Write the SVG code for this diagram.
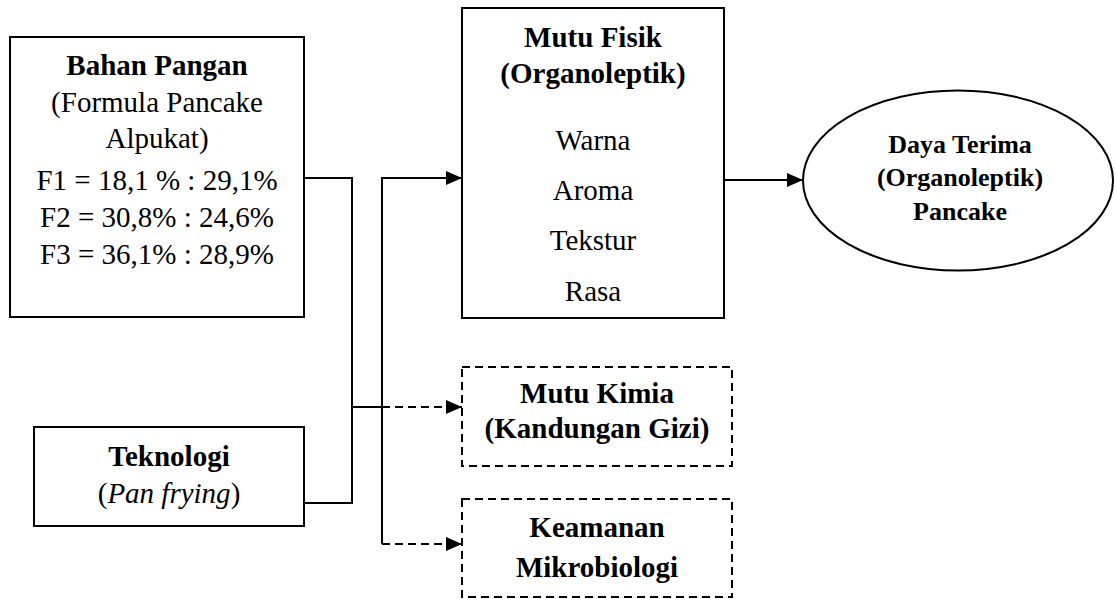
<svg xmlns="http://www.w3.org/2000/svg" width="1116" height="599" viewBox="0 0 1116 599">
<style>
  .box{fill:#fff;stroke:#000;stroke-width:2}
  .dbox{fill:#fff;stroke:#000;stroke-width:2;stroke-dasharray:8 5}
  .ln{fill:none;stroke:#000;stroke-width:2}
  .dl{fill:none;stroke:#000;stroke-width:2;stroke-dasharray:8 5}
  text{font-family:'Liberation Serif','Times New Roman','DejaVu Serif',serif;font-size:29px;fill:#000;text-anchor:middle}
  .b{font-weight:bold}
  .s{font-size:26px}
</style>
<defs>
  <marker id="arr" viewBox="0 0 16 14" refX="16" refY="7" markerWidth="16" markerHeight="14" markerUnits="userSpaceOnUse" orient="auto">
    <path d="M0,0 L16,7 L0,14 Z" fill="#000"/>
  </marker>
</defs>
<rect width="1116" height="599" fill="#fff"/>
<g id="connectors">
  <polyline class="ln" points="304,178 352,178 352,503 304,503"/>
  <line class="ln" x1="352" y1="407" x2="382" y2="407"/>
  <polyline class="ln" points="462,178 382,178 382,544"/>
  <line class="ln" x1="382" y1="178" x2="462" y2="178" marker-end="url(#arr)"/>
  <line class="dl" x1="382" y1="407" x2="462" y2="407" marker-end="url(#arr)"/>
  <line class="dl" x1="382" y1="544" x2="462" y2="544" marker-end="url(#arr)"/>
  <line class="ln" x1="724" y1="180" x2="803" y2="180" marker-end="url(#arr)"/>
</g>
<g id="bahan" font-family="Liberation Serif, serif">
  <rect class="box" x="10" y="37" width="294" height="280"/>
  <text class="b" x="157" y="75">Bahan Pangan</text>
  <text x="157" y="112">(Formula Pancake</text>
  <text x="157" y="148">Alpukat)</text>
  <text x="157" y="190">F1 = 18,1 % : 29,1%</text>
  <text x="157" y="227">F2 = 30,8% : 24,6%</text>
  <text x="157" y="264">F3 = 36,1% : 28,9%</text>
</g>
<g id="teknologi">
  <rect class="box" x="34" y="427" width="270" height="99"/>
  <text class="b" x="169" y="466">Teknologi</text>
  <text x="169" y="503">(<tspan font-style="italic">Pan frying</tspan>)</text>
</g>
<g id="mutufisik">
  <rect class="box" x="462" y="8" width="262" height="310"/>
  <text class="b" x="593" y="47">Mutu Fisik</text>
  <text class="b" x="593" y="83">(Organoleptik)</text>
  <text x="593" y="150">Warna</text>
  <text x="593" y="200">Aroma</text>
  <text x="593" y="250">Tekstur</text>
  <text x="593" y="301">Rasa</text>
</g>
<g id="mutukimia">
  <rect class="dbox" x="462" y="367" width="270" height="99"/>
  <text class="b" x="597" y="403">Mutu Kimia</text>
  <text class="b" x="597" y="438">(Kandungan Gizi)</text>
</g>
<g id="keamanan">
  <rect class="dbox" x="462" y="499" width="270" height="98"/>
  <text class="b" x="597" y="537">Keamanan</text>
  <text class="b" x="597" y="577">Mikrobiologi</text>
</g>
<g id="dayaterima">
  <ellipse class="box" cx="958" cy="180.5" rx="155" ry="90"/>
  <text class="b s" x="960" y="153">Daya Terima</text>
  <text class="b s" x="960" y="186">(Organoleptik)</text>
  <text class="b s" x="960" y="220">Pancake</text>
</g>
</svg>
